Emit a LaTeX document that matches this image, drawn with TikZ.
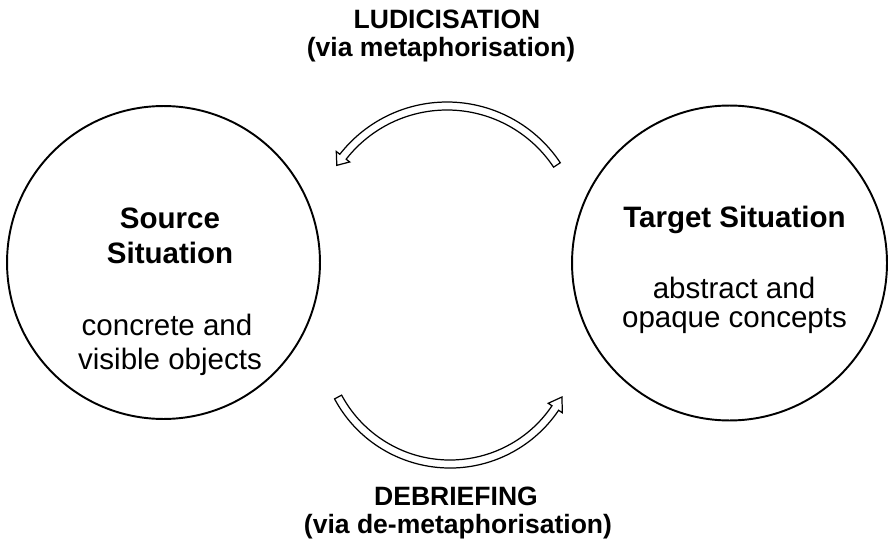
\documentclass[tikz,border=0pt]{standalone}
\usepackage{fontspec}
\setmainfont{Liberation Sans}
\usetikzlibrary{positioning, calc}
\tikzset{
situation/.style={draw, circle, line width=1.1pt, minimum size=#1},
headline/.style={anchor=base, inner sep=0pt, font=\bfseries\fontsize{16.8}{20}\selectfont},
plain/.style={anchor=base, inner sep=0pt, font=\fontsize{16.8}{20}\selectfont},
caption/.style={anchor=base, inner sep=0pt, font=\bfseries\fontsize{15.1}{18}\selectfont},
hollow/.style={draw, line width=0.7pt, fill=white, line join=miter},
}
% hollow bent arrow: centre, radius, tail angle, head base angle, tip angle
\newcommand{\hollowarc}[5]{%
  \draw[hollow] ($(#1)+(#3:#2+4)$) arc[start angle=#3, end angle=#4, radius=#2+4]
    -- ($(#1)+(#4:#2+8.5)$) -- ($(#1)+(#5:#2)$) -- ($(#1)+(#4:#2-8.5)$)
    -- ($(#1)+(#4:#2-4)$) arc[start angle=#4, end angle=#3, radius=#2-4] -- cycle;}

\begin{document}
\begin{tikzpicture}[x=0.02cm, y=0.02cm]
    \useasboundingbox (0,0) rectangle (888,545);

    %circles
    \node[situation=6.26cm] (source) at (163.5,282.5) { };
    \node[situation=6.3cm]  (target) at (729.5,282) { };

    %source text
    \node[headline] (src1) at (170,317) {Source};
    \node[headline] (src2) at (170,282) {Situation};
    \node[plain]    (src3) at (167,210) {concrete and};
    \node[plain]    (src4) at (170,176) {visible objects};

    %target text
    \node[headline] (tgt1) at (734.5,318) {Target Situation};
    \node[plain]    (tgt2) at (734,247) {abstract and};
    \node[plain]    (tgt3) at (734.5,218) {opaque concepts};

    %arc centres
    \coordinate (upper) at (447,307);
    \coordinate (lower) at (450,208);

    %arrows
    \hollowarc{upper}{132}{33.6}{142}{146.6}
    \hollowarc{lower}{127}{208.2}{326}{331.8}

    %captions
    \node[caption] (ludic)  at (447,516) {LUDICISATION};
    \node[caption] (ludic2) at (441,488) {(via metaphorisation)};
    \node[caption] (debr)   at (456,40)  {DEBRIEFING};
    \node[caption] (debr2)  at (458,12)  {(via de-metaphorisation)};
\end{tikzpicture}
\end{document}
